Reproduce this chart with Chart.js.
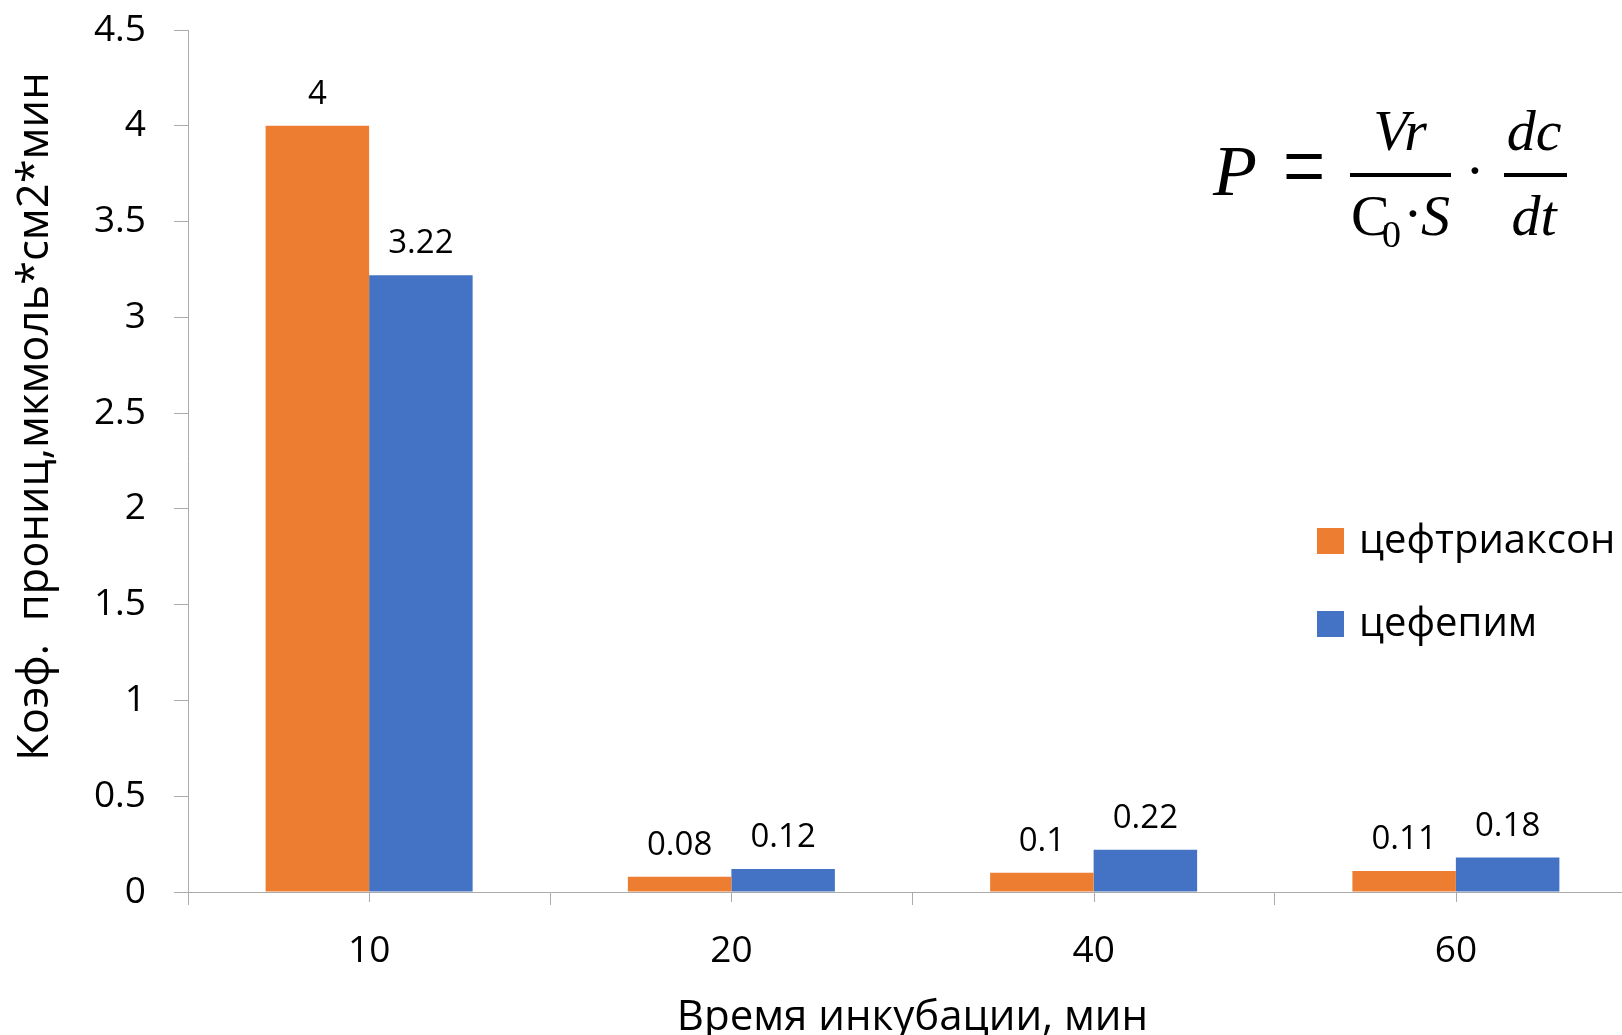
<!DOCTYPE html>
<html>
<head>
<meta charset="utf-8">
<script src="https://cdn.jsdelivr.net/npm/chart.js@4/dist/chart.umd.min.js"></script>
<style>
  html, body { margin: 0; padding: 0; background: #fff; overflow: hidden; }
  #wrap { position: relative; width: 1650px; height: 1035px; }
</style>
</head>
<body>
<div id="wrap"><canvas id="c"></canvas></div>
<script>
// ---- data ----
const categories = ['10', '20', '40', '60'];
const seriesNames = ['цефтриаксон', 'цефепим'];
const ceftriaxoneValues = [4, 0.08, 0.1, 0.11];
const cefepimeValues = [3.22, 0.12, 0.22, 0.18];
const seriesColors = ['#ED7D31', '#4472C4'];
const yTickLabels = ['0', '0.5', '1', '1.5', '2', '2.5', '3', '3.5', '4', '4.5'];
const xTitle = 'Время инкубации, мин';
const yTitle = 'Коэф.  прониц,мкмоль*см2*мин';

const AXIS_GRAY = '#ABABAB';
const FONT = '"Open Sans", "Noto Sans", sans-serif';

const overlay = {
  id: 'overlay',
  afterDraw(chart) {
    const ctx = chart.ctx;
    const area = chart.chartArea;
    const xs = chart.scales.x;
    ctx.save();
    // category-centre tick marks on x axis
    ctx.strokeStyle = AXIS_GRAY;
    ctx.lineWidth = 1;
    for (let i = 0; i < categories.length; i++) {
      const px = Math.round(xs.getPixelForValue(i)) + 0.5;
      ctx.beginPath();
      ctx.moveTo(px, area.bottom);
      ctx.lineTo(px, area.bottom + 10);
      ctx.stroke();
    }
    // data labels
    ctx.fillStyle = '#000';
    ctx.font = '33px ' + FONT;
    ctx.textAlign = 'center';
    ctx.textBaseline = 'alphabetic';
    chart.data.datasets.forEach((ds, di) => {
      const meta = chart.getDatasetMeta(di);
      meta.data.forEach((bar, i) => {
        ctx.fillText(String(ds.data[i]), bar.x, bar.y - 22);
      });
    });
    // legend
    ctx.textAlign = 'left';
    ctx.font = '40px ' + FONT;
    chart.data.datasets.forEach((ds, di) => {
      const y0 = 528 + di * 83;
      ctx.fillStyle = ds.backgroundColor;
      ctx.fillRect(1317, y0, 27, 26);
      ctx.fillStyle = '#000';
      ctx.fillText(ds.label, 1359, y0 + 25);
    });
    // y axis title
    ctx.save();
    ctx.translate(48, 416.5);
    ctx.rotate(-Math.PI / 2);
    ctx.textAlign = 'center';
    ctx.font = '43.5px ' + FONT;
    ctx.fillText(yTitle, 0, 0);
    ctx.restore();
    // formula
    const serif = '"Liberation Serif", "DejaVu Serif", serif';
    ctx.fillStyle = '#000';
    ctx.textAlign = 'left';
    ctx.font = 'italic 72px ' + serif;
    ctx.fillText('P', 1213, 195);
    ctx.textAlign = 'center';
    ctx.font = '72px ' + serif;
    ctx.save();
    ctx.translate(1304, 200);
    ctx.scale(1.05, 1.4);
    ctx.fillText('=', 0, 0);
    ctx.restore();
    ctx.fillRect(1350, 173, 101, 4);
    ctx.fillRect(1504, 173, 63, 4);
    ctx.font = 'italic 58px ' + serif;
    ctx.fillText('Vr', 1400, 150);
    ctx.fillText('dc', 1534, 150);
    ctx.fillText('dt', 1534, 235);
    ctx.textAlign = 'left';
    ctx.font = '58px ' + serif;
    ctx.fillText('С', 1351, 235);
    ctx.font = '38px ' + serif;
    ctx.fillText('0', 1382, 247);
    ctx.font = '58px ' + serif;
    ctx.textAlign = 'center';
    ctx.fillText('·', 1413, 233);
    ctx.fillText('·', 1475, 190);
    ctx.font = 'italic 58px ' + serif;
    ctx.textAlign = 'left';
    ctx.fillText('S', 1421, 235);
    ctx.restore();
  }
};

new Chart(document.getElementById('c'), {
  type: 'bar',
  data: {
    labels: categories,
    datasets: [
      { label: seriesNames[0], data: ceftriaxoneValues, backgroundColor: seriesColors[0], borderWidth: 0 },
      { label: seriesNames[1], data: cefepimeValues, backgroundColor: seriesColors[1], borderWidth: 0 }
    ]
  },
  options: {
    responsive: true,
    maintainAspectRatio: false,
    animation: false,
    layout: { padding: { top: 30, right: 13, bottom: 0, left: 0 } },
    datasets: { bar: { categoryPercentage: 2 / 3.5, barPercentage: 1 } },
    plugins: { legend: { display: false }, tooltip: { enabled: false } },
    scales: {
      x: {
        offset: true,
        afterFit: (s) => { s.height = 143; s.paddingLeft = 0; s.paddingRight = 0; },
        grid: { display: true, drawOnChartArea: false, offset: true, color: AXIS_GRAY, tickLength: 13, lineWidth: 1 },
        border: { display: true, color: AXIS_GRAY, width: 1 },
        ticks: { color: '#000', font: { family: FONT, size: 37 }, padding: 24, maxRotation: 0 },
        title: { display: true, text: xTitle, color: '#000', font: { family: FONT, size: 42, lineHeight: 0.8 }, padding: 0 }
      },
      y: {
        min: 0,
        max: 4.5,
        afterFit: (s) => { s.width = 188; s.paddingTop = 0; s.paddingBottom = 0; },
        grid: { display: true, drawOnChartArea: false, color: AXIS_GRAY, tickLength: 14, lineWidth: 1 },
        border: { display: true, color: AXIS_GRAY, width: 1 },
        ticks: {
          stepSize: 0.5,
          color: '#000',
          font: { family: FONT, size: 37 },
          padding: 28,
          callback: (v, i) => yTickLabels[i]
        }
      }
    }
  },
  plugins: [overlay]
});
</script>
</body>
</html>
